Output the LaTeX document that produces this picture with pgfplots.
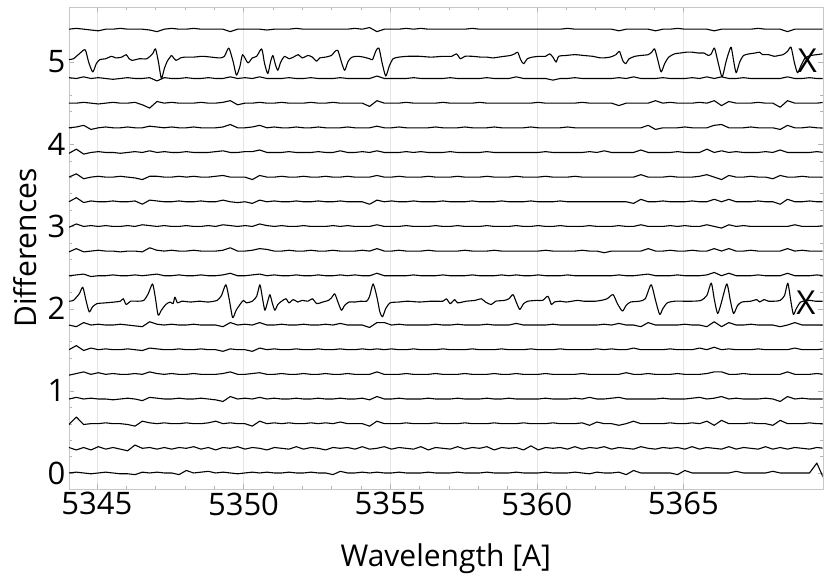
\documentclass[border=0pt]{standalone}
\usepackage{fontspec}
\setmainfont{Open Sans}
\usepackage{pgfplots}
\usepackage{pgfplotstable}
\pgfplotsset{compat=1.18}

% deviations of the flat difference spectra, in units of 0.01
\pgfplotstableread{
x c0 c1 c2 c3 c4 c5 c6 c8 c9 c10 c11 c12 c13 c14 c15 c16 c18
5344.05  0  1 -1  0 -1  0  0  0 -1 -1  0  0 -1  0  0  1  0
5344.30  1 -2  8  2  1  5 -2  1  3  3  5  4  4  1  0  0  1
5344.55  0  1 -1  0  3 -1  3  2 -1  0 -1 -2 -2  3  1  2  0
5344.80 -1 -2  0  1  0  2  0 -1  0  1  1  0  0 -2  0  0 -1
5345.05  0  2  0  0  2  0  1  0  1  0  0  1  1  0 -1  1 -2
5345.30  1 -1  1  0  0  1  0  0  0  1  0  0  0  1  0  0  0
5345.55  0  1  0 -1  1  0  0  1  0  0  1  0  0  0  1 -1  0
5345.80 -1 -1  0  0  0  0  1  0 -1  0  0  1 -1  0  0  0  1
5346.05 -1 -3 -1  1  0  1  0  0  0  1  0  0  0  1  0  1  0
5346.30 -2  4 -3  0  1  0 -1  1  0  0  1 -1  1  0  1  0  0
5346.55  1  0  3 -2  0 -1 -2  0 -1  2 -3 -3  0  0 -2  0  0
5346.80  0  1  1  2  3  2  4  1  4  1  2  1  2  2 -6  1 -1
5347.05  1 -1  0  1  1  1  1  2  1  0  1  1  0  1  2 -3 -3
5347.30  0  1  1  0  0  0  0  0  0  1  0  0  1  0  0  1  0
5347.55  0 -1  0  0  1  0  1  0  1  0  0  0  0  1  1  0  1
5347.80 -2  1  0  1  0  1  0  1  0  0  1  1  0  0  0  0  0
5348.05  3  0  1  0  0  0  0  0  0  1  0  0  1  0  0  1  0
5348.30  0  2  0  0  1  0  1  0  1  0  0  1  0  1  0  0  1
5348.55  1 -1  0  1  0  1  0  1  0  0  1  0  0  0  1  0  0
5348.80  2  1  1  0  0  0  0  0  0  1  0  0  0  0  0  1  0
5349.05  0 -2  3 -1  0  0  0  0  0  0  0  1  1  0  0  0  0
5349.30  1  1  0 -3  1 -2 -2  1  1  2  2  2  2  1  1  0  0
5349.55  0  0  1  3  3  1  3  3  4  1  0  0  0  4  3  2 -3
5349.80 -1  2  0  0  0  0  0  0  0  0 -1  0  0  0 -2  0  0
5350.05  0 -1  0  1  0  0  1  0  0  1  0  0  1  0  0  1  0
5350.30  1  1 -3  0  1 -2  0  1  1  0 -2 -3  1  1  0  0  0
5350.55  0  0  3  2  2  2  3  2  3  3  2  2  3  3  1  2  0
5350.80  1 -2  0  0  0  0  0  0  2  1  0  0  0  0  0  0 -1
5351.05  0  1  1  1  0  1  0  1  0  0  1  0  0  1  0  0  0
5351.30  0  0  0  0  1  0  1  0  0  1  0  1  0  0  1  0  0
5351.55  1 -1  1  0  0  0  0  0  1  0  0  0  1  0  0  1  0
5351.80  0  2  0  1  0  1  0  1  0  0  1  0  0  1  0  0  1
5352.05  0 -1  0  0  1  0  1  0  0  1  0  1  0  0  0  0  0
5352.30  1  1  1  0  0  0  0  0  1  0  0  0  0  0  1  1  0
5352.55  0  0  0  1  0  1  0  1  0  0  1  0  1  1  0  0  0
5352.80  0 -2  1  0  1  0  1  0  0  0  0  1  0  0  0  0  0
5353.05 -2  1  0  0  0  0  0  0  1  1  0  0  0  0  1  0  0
5353.30  2  0  2  1  0  1  2  1  0  0  1  0  2  0  0  1  0
5353.55  0  1  0  0  1  0  0  0  0  1  0  1  0  1  0  0  0
5353.80  0 -1  0  0  0  0  0  1  0  0  0  0  0  0  0  0  1
5354.05  1  2  0  1  0  1  0  0  1  0  0  0  1  0  0  0  0
5354.30  0 -1 -3 -1  0  0 -3  0  0  0 -3  0  0  0 -4  0  2
5354.55  1  0  3  3  3  1  3  3  3  2  2  2  2  2  3  3 -3
5354.80  0  2  0  0  0  0  3  0  0  0  0  0  0  0  0  0  0
5355.05  0 -1  0  0  0  1  0  0  0  0  1  0  0  0  0  0  0
5355.30  1  1  0  1  0  0  1  0  1  0  0  1  0  1  0  0  0
5355.55  0  0  1  0  1  0  0  0  0  1  0  0  1  0  1  0  1
5355.80  0 -1  0  0  0  1  0  1  0  0  1  0  0  0  0  1  0
5356.05  0  2  0  0  0  0  0  0  0  0  0  0  1  0  0  0  1
5356.30  1 -2  0  1  0  0  0  0  1  0  0  1  0  0  0  0  0
5356.55  0  1  1  0  1  0  1  0  0  1  0  0  0  1  0  0  0
5356.80  0  0  0  0  0  1  0  1  0  0  1  0  0  0  1  0  0
5357.05  0 -1  0  0  0  0  0  0  0  0  0  0  1  0  0  1  0
5357.30  1  2  0  1  0  0  1  0  0  1  0  1  0  0  0  0  0
5357.55  0 -1  1  0  1  0  0  0  1  0  0  0  0  1  0  0  0
5357.80  0  1  0  0  0  1  0  1  0  0  1  0  0  0  0  0  1
5358.05  0  0  0  0  0  0  0  0  0  0  0  0  0  0  1  0  0
5358.30  1  2  0  1  0  0  1  0  0  1  0  1  1  0  0  1  0
5358.55  0 -2  1  0  1  0  0  0  1  0  0  0  0  1  0  0  0
5358.80  0  1  0  0  0  1  0  1  0  0  1  0  0  0  0  0  0
5359.05  0  0  0  1  0  0  0  0  0  0  0  0  0  0  0  0  0
5359.30  1  1  0  0  1  0  2  1  0  1  0  1  0  0  0  2  0
5359.55  0 -2  1  0  0  0  0  0  0  0  0  0  0  0  0  0  0
5359.80  0  3  0  0  0  1  0  0  0  0  1  0  0  1  0  0  0
5360.05  0 -2  0  0  0  0  0  1  0  1  0  0  0  0  1  0  0
5360.30  1  1  0  1  1  0  0  0  1  0  0  1  1  0  0  0  0
5360.55  0  0  1  0  0  0  1  0  0  0  0  0  0  0  0 -2  0
5360.80  0  1  0  0  0  1  0  0  0  1  1  0  0  0  0  0  0
5361.05  0 -1  0  0  0  0  0  1  0  0  0  0  0  1  0  0  1
5361.30  1  2  0  1  0  0  0  0  0  0  0  1  0  0  0  1  0
5361.55  0 -1  1  0  1  0  0  0  1  0  0  0  0  0  1  0  0
5361.80 -1  1 -2  2  0  0  0  0  0  1  0  0  1  0  0  0  0
5362.05  1  0  2  0  0  1  0  0  0  0  0  0  0  0  0  0  0
5362.30  0  2  0  0  0  0  1  0 -2  0  0  0  2  0  0  0  0
5362.55  0 -1  0  1  0  1  0  0  0  0  0  0  0  0  0  0  0
5362.80  1  1 -2  2  0  0  2  1  0  1  0  0  0  0 -3  1 -2
5363.05 -2  0  0  0  2  0  0  0  0  0  0  0  0  0  0  0  0
5363.30  3 -1  3  0  0  2  0  0  0  0 -2  0  0  0  0  2  0
5363.55  0  2  0  0  0  0 -2  1  0  2  3  3  3  0  0  0  0
5363.80  0  0  0  0  1  0  3  2  3  0  0  0  0  3  0  0  0
5364.05  0 -1  0  0  0  0  0  0  0  0  0  0  0 -2  3  0 -2
5364.30  0  1  0  1  0  0  0  0  0  0  1  0  0  0  0  1  0
5364.55  0  0  1  0  0  1  0  0  1  1  0  1  0  0  1  0  0
5364.80 -2  1  0  0  1  0  0  1  0  0  0  0  1  0  0  0  1
5365.05  3 -1  0  0  0  0  1  0  0  1  0  0  0  1  0  0  0
5365.30  0  2  1  1  0  0  0  0  1  0  1  0  0  0  0  1  0
5365.55  0 -1  0  2  0  2  0  0  0  0  0  1  0  0  1  0  0
5365.80  0  1  3  0  1  0 -2  1  0  2  0  3  4  0  0  2  0
5366.05  0  0 -2  1  3  3  4  4  3  0  3  0  0  3  3  0 -2
5366.30  0 -1  4  3  3  0 -2  0  0 -2  0 -3  2  4 -3  2  0
5366.55  0  2  0  0  0  1  3  3  3  2  3  2  0  0  2  0  0
5366.80  2 -1  0  1  0  0  0  0  0  0  0  0  1  0  0  0  0
5367.05  0  1  0  0  1  0  0  0  0  1  0  0  0  0  0  1  0
5367.30  0  0  1  0  0  0  1  0  1  0  0  1  0  1  0  0  0
5367.55  0 -1  0  0  0  1  0  1  0  0  1  0  0  0  1  0  1
5367.80  0  2  0  1  0  0  0  0  0  0  0  0  1  0  0  0  0
5368.05  2 -1 -2  0  0  0  0  0  0  0  0 -2  0  0  0  0  0
5368.30  0  1  4 -3  0  0 -2  0  0  0 -3  2  3 -2 -5  0  0
5368.55  0 -1  0  3  3  0  0  3  3  0  3  0  0  3  3  2 -3
5368.80  0  1  0  0  0  2  3  0  0  2  0  0  0  0  0  0  0
5369.05  0  0  0  1  0  0  0  0  1  0  0  1  0  0  0  0  0
5369.30  0 -1  1  0  0  0  0  0  0  0  1  0  0  1  0  1  0
5369.55 12  1  0  0  1  0  0  1  0  0  0  0  1  0  0  0  0
5369.80 -8  0  0  0  0  1  0  0  0  1  0  0  0  0  1  0  0
}\noise

% difference spectrum with strong features, offset 2.1
\pgfplotstableread{
x y
5344.05 2.09
5344.20 2.10
5344.40 2.18
5344.52 2.26
5344.63 2.10
5344.74 1.96
5344.85 2.02
5345.00 2.06
5345.30 2.07
5345.60 2.08
5345.80 2.09
5345.90 2.12
5346.00 2.05
5346.15 2.09
5346.40 2.09
5346.60 2.10
5346.75 2.18
5346.90 2.30
5347.00 2.12
5347.09 1.92
5347.20 1.98
5347.35 2.05
5347.50 2.08
5347.60 2.06
5347.66 2.14
5347.75 2.07
5347.90 2.09
5348.20 2.08
5348.50 2.09
5348.80 2.08
5349.10 2.10
5349.25 2.16
5349.40 2.29
5349.52 2.10
5349.63 1.89
5349.75 1.98
5349.90 2.06
5350.00 2.10
5350.10 2.07
5350.30 2.09
5350.45 2.15
5350.56 2.29
5350.65 2.12
5350.73 1.98
5350.82 2.08
5350.90 2.17
5350.98 2.07
5351.07 1.98
5351.17 2.05
5351.30 2.09
5351.45 2.12
5351.55 2.07
5351.70 2.11
5351.85 2.08
5352.00 2.10
5352.20 2.09
5352.35 2.12
5352.50 2.06
5352.70 2.08
5352.90 2.10
5353.00 2.13
5353.11 2.18
5353.22 2.08
5353.34 1.98
5353.45 2.04
5353.60 2.08
5353.80 2.08
5354.00 2.09
5354.20 2.09
5354.30 2.15
5354.42 2.30
5354.55 2.14
5354.65 1.96
5354.74 1.90
5354.85 2.00
5355.00 2.07
5355.30 2.08
5355.60 2.09
5356.00 2.08
5356.40 2.09
5356.80 2.09
5356.92 2.12
5357.05 2.06
5357.20 2.11
5357.30 2.07
5357.60 2.09
5357.90 2.10
5358.11 2.12
5358.25 2.08
5358.45 2.05
5358.60 2.09
5358.90 2.10
5359.05 2.12
5359.19 2.17
5359.30 2.08
5359.42 1.99
5359.55 2.06
5359.70 2.09
5360.00 2.10
5360.20 2.10
5360.38 2.15
5360.50 2.05
5360.60 2.08
5360.80 2.09
5361.00 2.08
5361.20 2.09
5361.40 2.10
5361.60 2.09
5361.80 2.09
5362.00 2.09
5362.20 2.10
5362.40 2.12
5362.60 2.17
5362.75 2.06
5362.92 1.97
5363.05 2.04
5363.20 2.08
5363.50 2.09
5363.70 2.12
5363.90 2.29
5364.05 2.10
5364.19 1.93
5364.30 2.00
5364.45 2.07
5364.70 2.09
5365.00 2.09
5365.30 2.09
5365.60 2.10
5365.80 2.16
5365.95 2.31
5366.06 2.10
5366.17 1.94
5366.30 2.08
5366.48 2.30
5366.60 2.10
5366.71 1.94
5366.85 2.04
5367.00 2.08
5367.30 2.09
5367.50 2.11
5367.60 2.08
5367.75 2.11
5367.90 2.09
5368.10 2.09
5368.30 2.10
5368.45 2.16
5368.56 2.31
5368.66 2.10
5368.75 1.93
5368.85 2.00
5369.00 2.08
5369.30 2.10
5369.50 2.09
5369.75 2.09
}\lineA

% difference spectrum with strong features, offset 5.1
\pgfplotstableread{
x y
5344.05 5.03
5344.20 5.04
5344.40 5.10
5344.60 5.15
5344.72 5.00
5344.86 4.88
5344.98 4.98
5345.10 5.03
5345.30 5.04
5345.50 5.07
5345.65 5.05
5345.85 5.06
5346.00 5.09
5346.10 5.04
5346.20 5.02
5346.45 5.04
5346.70 5.04
5346.90 5.10
5347.00 5.16
5347.10 5.00
5347.20 4.80
5347.30 4.92
5347.40 5.01
5347.50 5.06
5347.55 5.08
5347.70 5.02
5347.85 5.05
5348.00 5.06
5348.30 5.06
5348.60 5.07
5348.90 5.06
5349.20 5.05
5349.35 5.07
5349.50 5.17
5349.65 5.00
5349.76 4.84
5349.88 4.95
5349.97 5.09
5350.15 4.99
5350.30 5.05
5350.45 5.07
5350.62 5.16
5350.72 4.98
5350.83 4.86
5350.92 5.00
5351.00 5.08
5351.08 4.98
5351.17 4.90
5351.27 5.00
5351.40 5.07
5351.55 5.04
5351.70 5.06
5351.87 5.09
5352.00 5.05
5352.20 5.08
5352.35 5.06
5352.49 5.01
5352.60 5.05
5352.80 5.06
5353.00 5.08
5353.12 5.13
5353.22 5.14
5353.34 5.00
5353.45 4.90
5353.57 5.01
5353.70 5.06
5353.90 5.07
5354.10 5.06
5354.30 5.04
5354.40 5.03
5354.52 5.14
5354.62 5.17
5354.72 5.00
5354.85 4.83
5354.97 4.95
5355.10 5.04
5355.30 5.06
5355.60 5.07
5356.00 5.07
5356.40 5.06
5356.80 5.07
5357.10 5.07
5357.26 5.10
5357.40 5.04
5357.55 5.07
5357.80 5.07
5358.10 5.06
5358.30 5.06
5358.50 5.05
5358.70 5.06
5358.90 5.07
5359.10 5.08
5359.25 5.10
5359.35 5.12
5359.45 5.03
5359.55 4.98
5359.68 5.04
5359.85 5.06
5360.10 5.07
5360.30 5.07
5360.44 5.10
5360.55 5.06
5360.66 5.00
5360.75 5.07
5361.00 5.08
5361.30 5.09
5361.60 5.08
5361.90 5.07
5362.20 5.05
5362.50 5.06
5362.70 5.09
5362.82 5.13
5362.93 5.02
5363.03 4.98
5363.15 5.04
5363.35 5.07
5363.55 5.08
5363.80 5.09
5363.92 5.12
5364.02 5.16
5364.13 5.02
5364.24 4.88
5364.36 4.98
5364.50 5.06
5364.70 5.10
5364.90 5.11
5365.10 5.12
5365.30 5.12
5365.50 5.11
5365.70 5.11
5365.85 5.08
5365.95 5.10
5366.06 5.17
5366.18 5.00
5366.32 4.82
5366.45 5.00
5366.55 5.12
5366.63 5.18
5366.72 5.00
5366.80 4.87
5366.92 5.00
5367.05 5.08
5367.25 5.10
5367.45 5.11
5367.60 5.12
5367.70 5.09
5367.90 5.09
5368.10 5.07
5368.25 5.08
5368.40 5.09
5368.55 5.13
5368.67 5.18
5368.78 5.00
5368.89 4.87
5369.00 4.95
5369.15 5.05
5369.35 5.08
5369.55 5.09
5369.75 5.10
}\lineB

\begin{document}
\begin{tikzpicture}
\path[use as bounding box] (-69pt,-88pt) rectangle (761pt,489pt);
\begin{axis}[
  at={(0pt,0pt)}, anchor=south west,
  scale only axis, width=753.7pt, height=482pt,
  xmin=5344.05, xmax=5369.75, ymin=-0.195, ymax=5.67,
  xtick={5345,5350,5355,5360,5365}, ytick={0,1,2,3,4,5},
  minor x tick num=4, minor y tick num=4,
  xmajorgrids, major grid style={black!10},
  axis line style={black!22}, tick style={black!30},
  tick align=inside, major tick length=5pt, minor tick length=3pt,
  /pgf/number format/1000 sep={},
  /pgf/number format/assume math mode=true,
  tick label style={font=\fontsize{31}{36}\selectfont},
  label style={font=\fontsize{30}{36}\selectfont},
  xlabel={Wavelength [A]}, ylabel={Differences},
  xlabel style={at={(axis description cs:0.5,-0.1598)}, anchor=base},
  ylabel style={at={(axis description cs:-0.0425,0.5)}, anchor=base},
  cycle list={black\\},
  every axis plot post/.append style={black, line width=1.1pt, line join=round, mark=none},
  no markers,
]
\addplot table[x=x, y expr=\thisrow{c0}/100]{\noise};
\addplot table[x=x, y expr=\thisrow{c1}/100+0.3]{\noise};
\addplot table[x=x, y expr=\thisrow{c2}/100+0.6]{\noise};
\addplot table[x=x, y expr=\thisrow{c3}/100+0.9]{\noise};
\addplot table[x=x, y expr=\thisrow{c4}/100+1.2]{\noise};
\addplot table[x=x, y expr=\thisrow{c5}/100+1.5]{\noise};
\addplot table[x=x, y expr=\thisrow{c6}/100+1.8]{\noise};
\addplot+[smooth, tension=0.4] table[x=x, y=y]{\lineA};
\addplot table[x=x, y expr=\thisrow{c8}/100+2.4]{\noise};
\addplot table[x=x, y expr=\thisrow{c9}/100+2.7]{\noise};
\addplot table[x=x, y expr=\thisrow{c10}/100+3.0]{\noise};
\addplot table[x=x, y expr=\thisrow{c11}/100+3.3]{\noise};
\addplot table[x=x, y expr=\thisrow{c12}/100+3.6]{\noise};
\addplot table[x=x, y expr=\thisrow{c13}/100+3.9]{\noise};
\addplot table[x=x, y expr=\thisrow{c14}/100+4.2]{\noise};
\addplot table[x=x, y expr=\thisrow{c15}/100+4.5]{\noise};
\addplot table[x=x, y expr=\thisrow{c16}/100+4.8]{\noise};
\addplot+[smooth, tension=0.4] table[x=x, y=y]{\lineB};
\addplot table[x=x, y expr=\thisrow{c18}/100+5.4]{\noise};
\node[font=\fontsize{33}{38}\selectfont] at (axis cs:5369.23,5.02) {X};
\node[font=\fontsize{33}{38}\selectfont] at (axis cs:5369.18,2.07) {X};
\end{axis}
\end{tikzpicture}
\end{document}
